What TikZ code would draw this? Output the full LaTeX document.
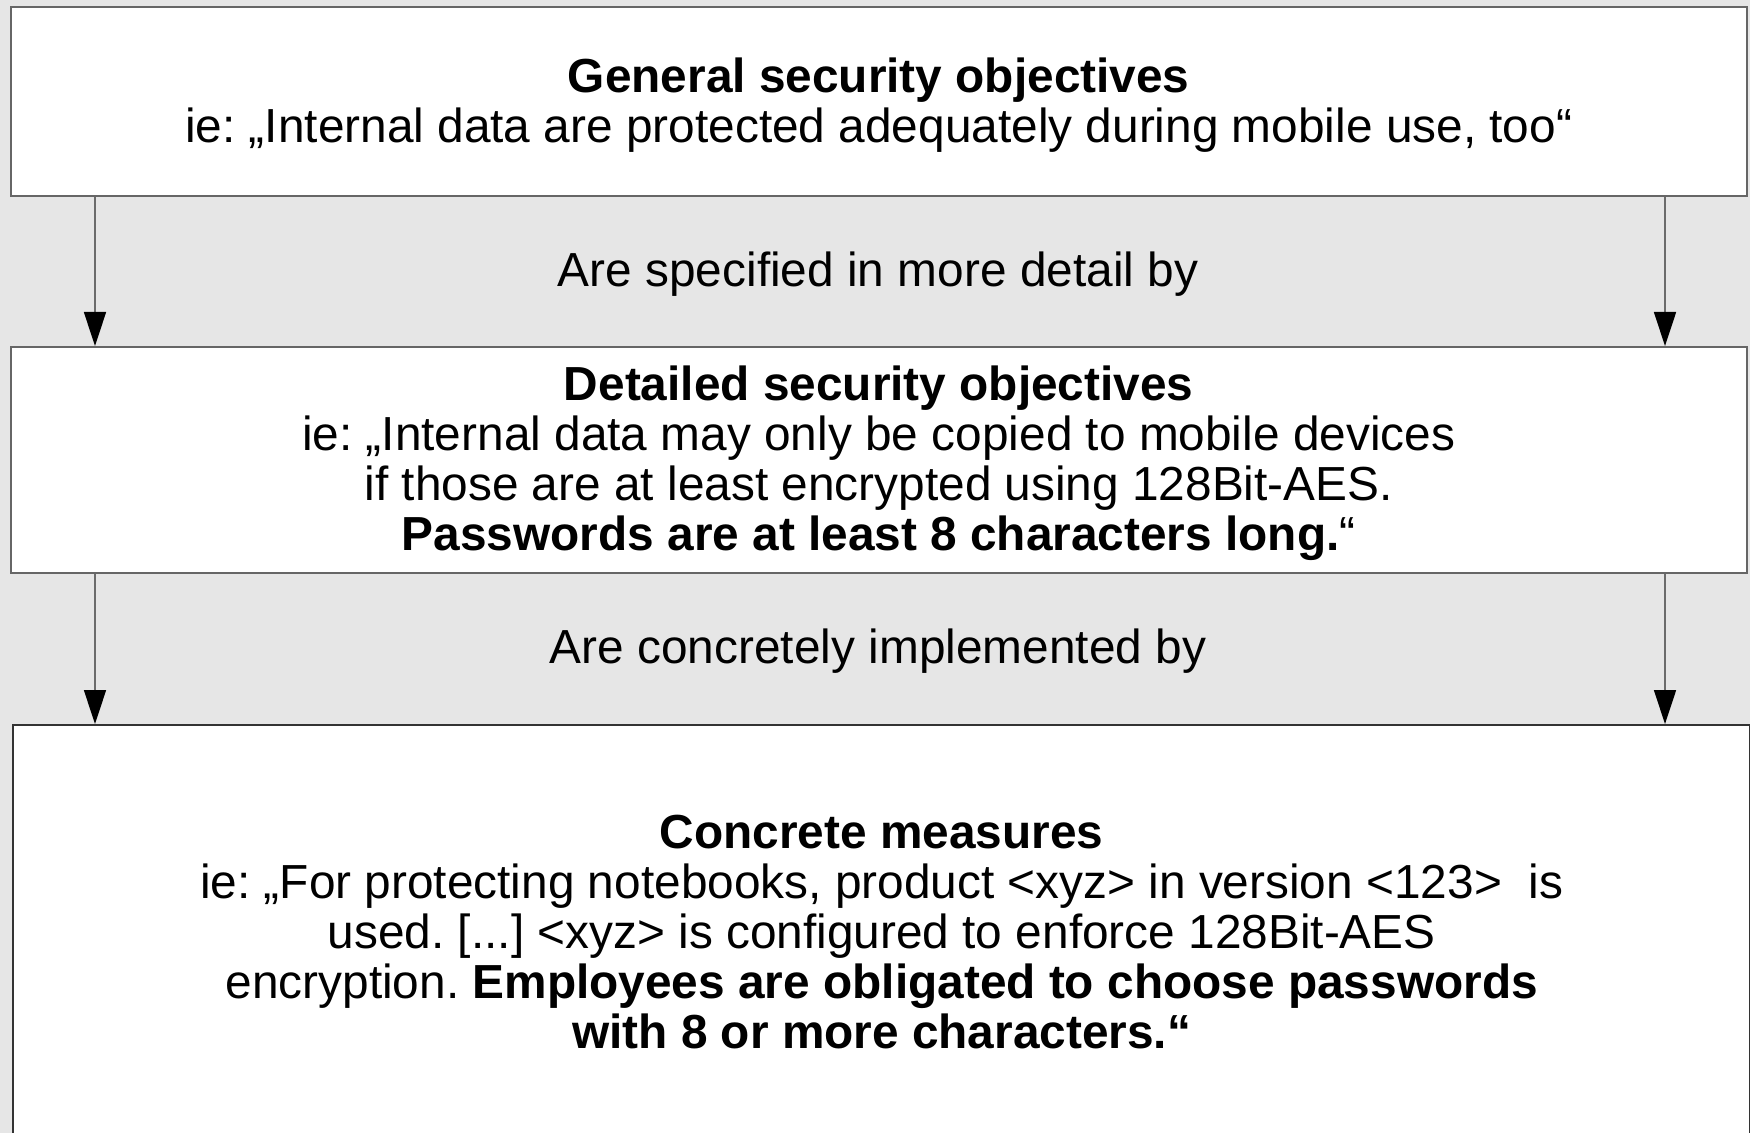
\documentclass[tikz,border=0pt]{standalone}
\usepackage{fontspec}
\setmainfont{Liberation Sans}
\usetikzlibrary{arrows.meta}
\definecolor{bggray}{HTML}{E6E6E6}
\definecolor{boxgray}{HTML}{666666}
\definecolor{linegray}{HTML}{6B6B6B}
\frenchspacing
\begin{document}
\begin{tikzpicture}[x=0.5pt,y=-0.5pt,
  box/.style={draw=boxgray, line width=1pt, fill=white, inner sep=0pt, anchor=north west},
  txt/.style={align=center, font=\fontsize{23.9}{25}\selectfont\frenchspacing, inner sep=0pt},
  conn/.style={draw=linegray, line width=0.8pt,
    -{Triangle[length=17pt,width=11pt,color=black]}}
]
\fill[bggray] (0,0) rectangle (1750,1133);
\useasboundingbox (0,0) rectangle (1750,1133);

\node[box, minimum width=868.25pt, minimum height=94.5pt] (b1) at (9.5,6) {};
\node[box, minimum width=868.25pt, minimum height=113pt] (b2) at (9.5,346) {};
\node[box, draw=black!80, minimum width=868.4pt, minimum height=207.5pt] (b3) at (12.3,724) {};

\node[txt, yshift=-1.7pt] (t1) at (b1.center)
  {\textbf{General security objectives}\\
   ie: „Internal data are protected adequately during mobile use, too“};

\node[txt, yshift=-1.7pt] (t2) at (b2.center)
  {\textbf{Detailed security objectives}\\
   ie: „Internal data may only be copied to mobile devices\\
   if those are at least encrypted using 128Bit-AES.\\
   \textbf{Passwords are at least 8 characters long.}“};

\node[txt] (t3) at (b3.center)
  {\textbf{Concrete measures}\\
   ie: „For protecting notebooks, product <xyz> in version <123>\ \ is\\
   used. [...] <xyz> is configured to enforce 128Bit-AES\\
   encryption. \textbf{Employees are obligated to choose passwords}\\
   \textbf{with 8 or more characters.“}};

\coordinate (cl) at (95,0);
\coordinate (cr) at (1665,0);

\node[txt] (l1) at (878,274) {Are specified in more detail by};
\node[txt] (l2) at (878,651) {Are concretely implemented by};

\draw[conn] (b1.south -| cl) -- (b2.north -| cl);
\draw[conn] (b1.south -| cr) -- (b2.north -| cr);
\draw[conn] (b2.south -| cl) -- (b3.north -| cl);
\draw[conn] (b2.south -| cr) -- (b3.north -| cr);
\end{tikzpicture}
\end{document}
